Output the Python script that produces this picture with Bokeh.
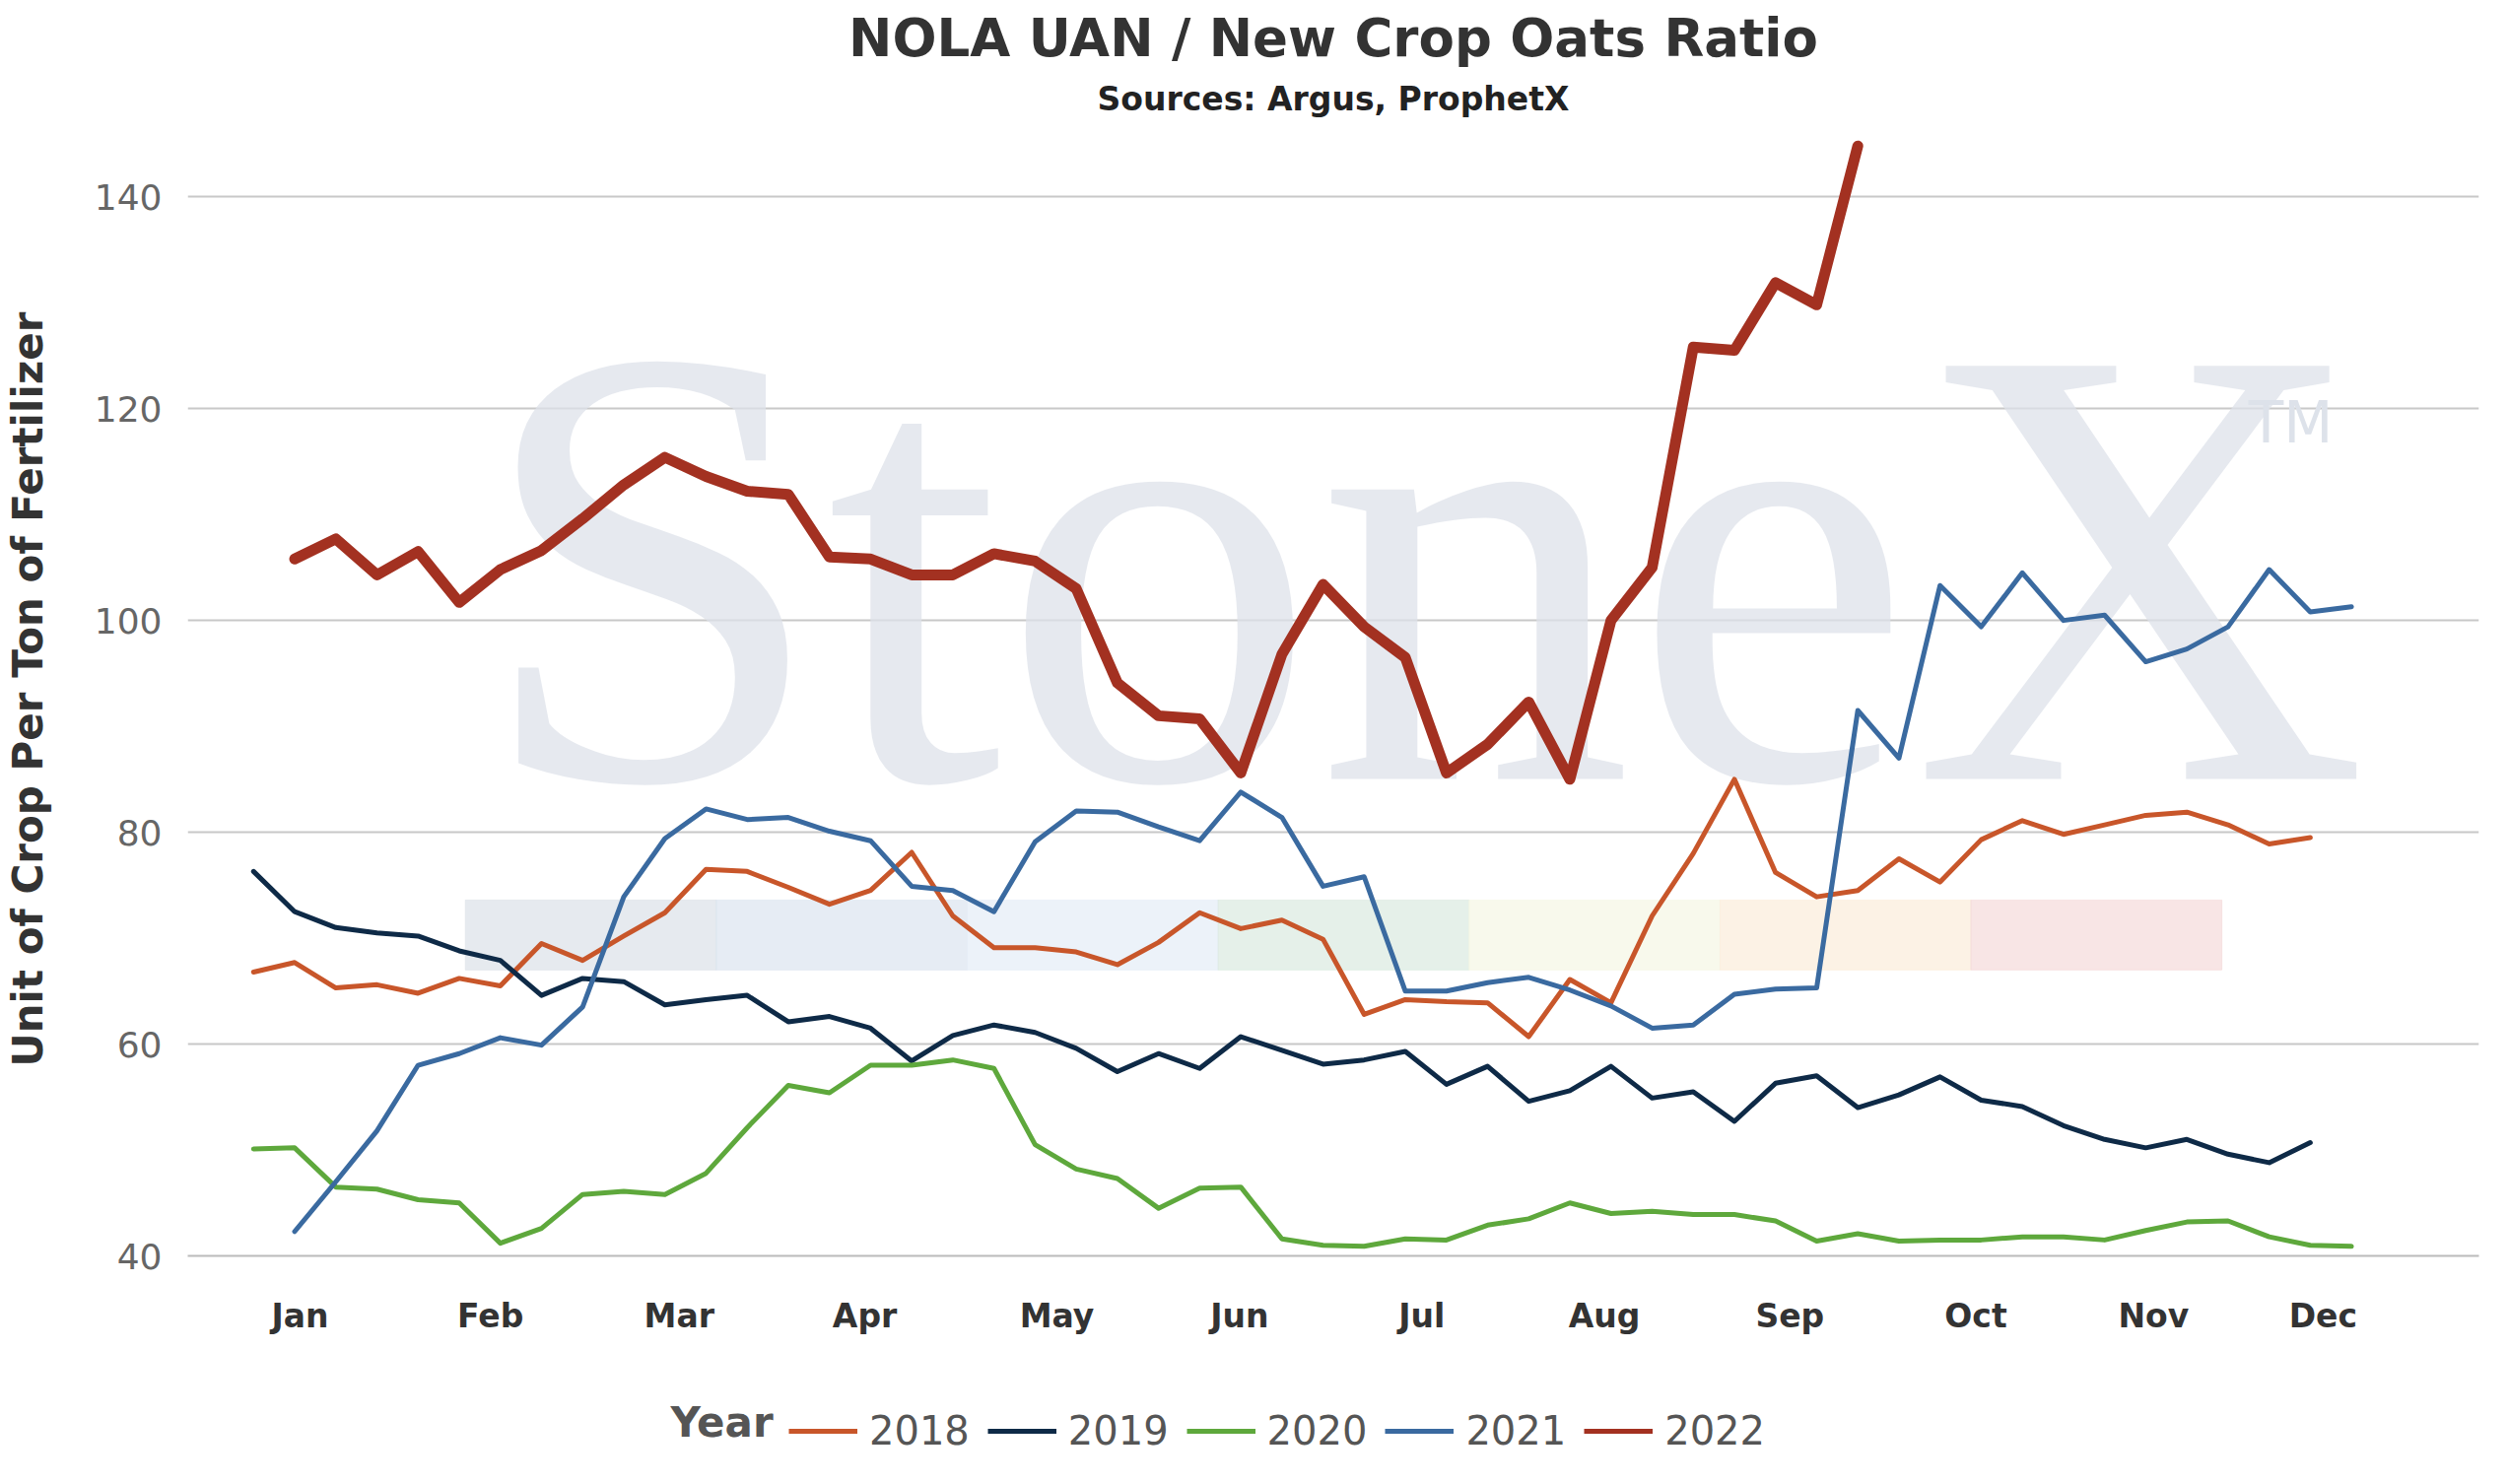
from bokeh.plotting import figure
from bokeh.layouts import column
from bokeh.models import FixedTicker, Legend, LegendItem, Label, Title, Range1d
from bokeh.embed import file_html
from bokeh.resources import INLINE

month_labels = ["Jan","Feb","Mar","Apr","May","Jun","Jul","Aug","Sep","Oct","Nov","Dec"]
month_pos = [1.13,5.76,10.35,14.86,19.53,23.97,28.40,32.84,37.35,41.87,46.19,50.31]

y2018 = [66.8,67.7,65.3,65.6,64.8,66.2,65.5,69.5,67.9,70.2,72.4,76.5,76.3,74.8,73.2,74.5,78.1,72.1,69.1,69.1,68.7,67.5,69.6,72.4,70.9,71.7,69.9,62.8,64.2,64.0,63.9,60.7,66.1,63.9,72.1,78.0,85.0,76.2,73.9,74.5,77.5,75.3,79.3,81.1,79.8,80.7,81.6,81.9,80.7,78.9,79.5]
y2019 = [76.3,72.5,71.0,70.5,70.2,68.8,67.9,64.6,66.2,65.9,63.7,64.2,64.6,62.1,62.6,61.5,58.4,60.8,61.8,61.1,59.6,57.4,59.1,57.7,60.7,59.4,58.1,58.5,59.3,56.2,57.9,54.6,55.6,57.9,54.9,55.5,52.7,56.3,57.0,54.0,55.2,56.9,54.7,54.1,52.3,51.0,50.2,51.0,49.6,48.8,50.7]
y2020 = [50.1,50.2,46.5,46.3,45.3,45.0,41.2,42.6,45.8,46.1,45.8,47.8,52.1,56.1,55.4,58.0,58.0,58.5,57.7,50.5,48.2,47.3,44.5,46.4,46.5,41.6,41.0,40.9,41.6,41.5,42.9,43.5,45.0,44.0,44.2,43.9,43.9,43.3,41.4,42.1,41.4,41.5,41.5,41.8,41.8,41.5,42.4,43.2,43.3,41.8,41.0,40.9]
y2021 = [42.3,47.0,51.8,58.0,59.1,60.6,59.9,63.5,73.9,79.4,82.2,81.2,81.4,80.1,79.2,74.9,74.5,72.5,79.1,82.0,81.9,80.5,79.2,83.8,81.4,74.9,75.8,65.0,65.0,65.8,66.3,65.1,63.6,61.5,61.8,64.7,65.2,65.3,91.5,87.0,103.3,99.4,104.5,100.0,100.5,96.1,97.3,99.4,104.8,100.8,101.3]
y2022 = [105.8,107.7,104.3,106.5,101.7,104.8,106.6,109.6,112.8,115.4,113.6,112.2,111.9,106.0,105.8,104.3,104.3,106.3,105.6,103.0,94.1,91.0,90.7,85.6,96.8,103.4,99.4,96.5,85.6,88.3,92.3,85.0,100.0,105.0,125.8,125.5,131.9,129.8,144.8]

series = [
    ("2018", 0, y2018, "#c8562a"),
    ("2019", 0, y2019, "#0e2a47"),
    ("2020", 0, y2020, "#5ea83c"),
    ("2021", 1, y2021, "#3a6aa0"),
    ("2022", 1, y2022, "#a33121"),
]
line_w = {"2022": 11}

FONT = "DejaVu Sans"
p = figure(frame_width=2325, frame_height=1150, output_backend="svg", toolbar_location=None,
           x_range=Range1d(-1.6, 54.1), y_range=Range1d(40, 147),
           min_border_left=20, min_border_right=20, min_border_top=10, min_border_bottom=10)
p.add_layout(Title(text="Sources: Argus, ProphetX", align="center", text_font=FONT,
                   text_font_size="33px", text_font_style="bold", text_color="#222222"), "above")
p.add_layout(Title(text="NOLA UAN / New Crop Oats Ratio", align="center", text_font=FONT,
                   text_font_size="53px", text_font_style="bold", text_color="#333333"), "above")

# watermark
p.add_layout(Label(x=5.4, y=72.2, text="StoneX", text_font="Liberation Serif", text_font_size="640px",
                   text_color="#dde2ea", text_alpha=0.75, level="underlay"))
p.add_layout(Label(x=48.5, y=115.5, text="TM", text_font=FONT, text_font_size="58px",
                   text_color="#dde2ea", level="underlay"))
strip_cols = ["#dde3ea","#dde6f0","#e6eef7","#dcebe2","#f6f7e6","#fbeedc","#f5dcdc"]
edges = [5.15,11.25,17.35,23.45,29.55,35.65,41.75,47.85]
p.quad(left=edges[:-1], right=edges[1:], bottom=[67]*7, top=[73.6]*7, color=strip_cols,
       alpha=0.75, level="underlay")

# legend figure (its proxy lines sit outside its visible range)
pl = figure(width=p.frame_width + 230, height=120, output_backend="svg", toolbar_location=None,
            x_range=Range1d(0, 1), y_range=Range1d(0, 1), min_border=0)
pl.axis.visible = False
pl.grid.grid_line_color = None
pl.outline_line_color = None

items = []
for name, start, ys, col in series:
    xs = list(range(start, start + len(ys)))
    w = line_w.get(name, 5)
    p.line(xs, ys, line_color=col, line_width=w, line_join="round", line_cap="round")
    r = pl.line([5, 6], [5, 6], line_color=col, line_width=5)
    items.append(LegendItem(label=name, renderers=[r]))

pl.add_layout(Label(x=490, y=10, x_units="screen", y_units="screen", text="Year",
                    text_font=FONT, text_font_size="42px", text_font_style="bold",
                    text_color="#555555"))
leg = Legend(items=items, orientation="horizontal", location=(610, 2),
             label_text_font=FONT, label_text_font_size="40px",
             label_text_color="#555555", border_line_color=None, background_fill_alpha=0,
             glyph_width=70, label_standoff=12, spacing=18, margin=0, padding=5)
pl.add_layout(leg, "center")

p.xaxis.ticker = FixedTicker(ticks=month_pos)
p.xaxis.major_label_overrides = {m: l for m, l in zip(month_pos, month_labels)}
p.xaxis.major_label_text_font = FONT
p.xaxis.major_label_text_font_style = "bold"
p.xaxis.major_label_text_font_size = "33px"
p.xaxis.major_label_text_color = "#333333"
p.xaxis.major_label_standoff = 35
p.xaxis.major_tick_line_color = None
p.xaxis.minor_tick_line_color = None
p.xaxis.axis_line_color = "#bbbbbb"
p.xaxis.axis_line_width = 2
p.xgrid.grid_line_color = None

p.yaxis.ticker = FixedTicker(ticks=[40,60,80,100,120,140])
p.yaxis.major_label_text_font = FONT
p.yaxis.major_label_text_font_size = "36px"
p.yaxis.major_label_text_color = "#666666"
p.yaxis.major_label_standoff = 20
p.yaxis.axis_line_color = None
p.yaxis.major_tick_line_color = None
p.yaxis.minor_tick_line_color = None
p.yaxis.axis_label = "Unit of Crop Per Ton of Fertilizer"
p.yaxis.axis_label_text_font = FONT
p.yaxis.axis_label_text_font_size = "42px"
p.yaxis.axis_label_text_font_style = "bold"
p.yaxis.axis_label_text_color = "#333333"
p.yaxis.axis_label_standoff = 40
p.ygrid.grid_line_color = "#c8c8c8"
p.ygrid.grid_line_width = 2
p.outline_line_color = None
p.border_fill_color = "white"

lay = column(p, pl, spacing=0)
open("out.html", "w").write(file_html(lay, INLINE))
